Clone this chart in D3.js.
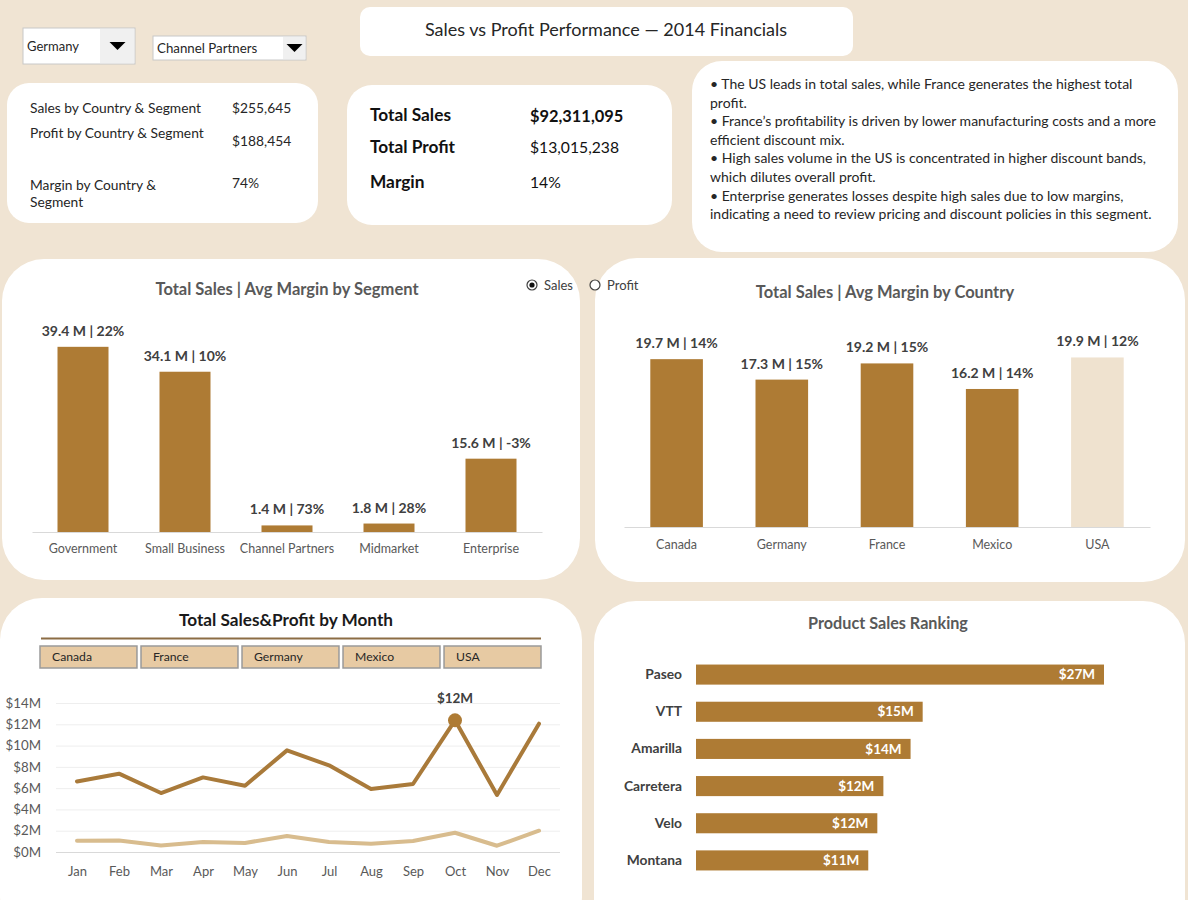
<!DOCTYPE html>
<html>
<head>
<meta charset="utf-8">
<script src="https://cdn.jsdelivr.net/npm/d3@7"></script>
<style>
  body { margin: 0; background: #F0E4D3; }
  svg { display: block; font-family: Lato, "Open Sans", sans-serif; }
</style>
</head>
<body>
<svg id="dash" width="1188" height="900"></svg>
<script>
// ---- data ----
const segments = ["Government", "Small Business", "Channel Partners", "Midmarket", "Enterprise"];
const segmentSales = [39.4, 34.1, 1.4, 1.8, 15.6];   // $M
const segmentMargin = [22, 10, 73, 28, -3];          // %

const countries = ["Canada", "Germany", "France", "Mexico", "USA"];
const countrySales = [19.7, 17.3, 19.2, 16.2, 19.9];
const countryMargin = [14, 15, 15, 14, 12];
const highlightCountry = "USA";

const months = ["Jan", "Feb", "Mar", "Apr", "May", "Jun", "Jul", "Aug", "Sep", "Oct", "Nov", "Dec"];
const monthSales = [6.63, 7.36, 5.54, 7.01, 6.23, 9.55, 8.14, 5.92, 6.39, 12.37, 5.36, 12.06];
const monthProfit = [1.06, 1.09, 0.62, 0.94, 0.85, 1.50, 0.94, 0.78, 1.03, 1.81, 0.59, 2.00];
const monthTicks = [0, 2, 4, 6, 8, 10, 12, 14];

const products = ["Paseo", "VTT", "Amarilla", "Carretera", "Velo", "Montana"];
const productSales = [27.0, 15.0, 14.2, 12.4, 12.0, 11.4];

const slicerCountries = ["Canada", "France", "Germany", "Mexico", "USA"];

const kpiSmallLabels = [["Sales by Country & Segment"], ["Profit by Country & Segment"], ["Margin by Country &", "Segment"]];
const kpiSmallValues = ["$255,645", "$188,454", "74%"];
const kpiLabels = ["Total Sales", "Total Profit", "Margin"];
const kpiValues = ["$92,311,095", "$13,015,238", "14%"];

const insights = [
  "\u2022 The US leads in total sales, while France generates the highest total",
  "profit.",
  "\u2022 France\u2019s profitability is driven by lower manufacturing costs and a more",
  "efficient discount mix.",
  "\u2022 High sales volume in the US is concentrated in higher discount bands,",
  "which dilutes overall profit.",
  "\u2022 Enterprise generates losses despite high sales due to low margins,",
  "indicating a need to review pricing and discount policies in this segment."
];

const BAR = "#AE7B34";
const LIGHT = "#EFE2CF";
const DARK = "#404040";
const GREY = "#595959";

const svg = d3.select("#dash");

svg.append("rect").attr("width", 1188).attr("height", 900).attr("fill", "#F0E4D3");

function panel(x, y, w, h, r) {
  svg.append("rect")
    .attr("x", x).attr("y", y).attr("width", w).attr("height", h)
    .attr("rx", r).attr("ry", r)
    .attr("fill", "#fff");
}

// ---- panels ----
panel(360, 7, 493, 49, 10);
panel(7, 83, 311, 140, 22);
panel(347, 85, 325, 140, 25);
panel(692, 61, 486, 191, 30);
panel(2, 259, 578, 321, 42);
panel(595, 258, 590, 324, 42);
panel(0, 598, 582, 340, 42);
panel(594, 601, 591, 340, 42);

// ---- title ----
svg.append("text")
  .attr("x", 606).attr("y", 30).attr("dy", "0.35em")
  .attr("text-anchor", "middle")
  .attr("font-size", 18).attr("fill", "#262626")
  .text("Sales vs Profit Performance \u2014 2014 Financials");

// ---- dropdowns ----
function dropdown(x, y, w, h, bw, label, fs) {
  let g = svg.append("g");
  g.append("rect").attr("x", x).attr("y", y).attr("width", w).attr("height", h)
    .attr("fill", "#fff").attr("stroke", "#C8C8C8");
  g.append("rect").attr("x", x + w - bw).attr("y", y + 1).attr("width", bw - 1).attr("height", h - 2)
    .attr("fill", "#F0F0F0");
  let cx = x + w - bw / 2, cy = y + h / 2;
  g.append("path")
    .attr("d", `M${cx - 8},${cy - 4}L${cx + 8},${cy - 4}L${cx},${cy + 4}Z`)
    .attr("fill", "#000");
  g.append("text").attr("x", x + 4).attr("y", cy).attr("dy", "0.35em")
    .attr("font-size", fs).attr("fill", "#262626").text(label);
}
dropdown(23, 28, 112, 36, 35, "Germany", 13);
dropdown(153, 36, 153, 24, 23, "Channel Partners", 13.3);

// ---- small KPI box ----
let rowsY = [108, 133, 185];
kpiSmallLabels.forEach((lines, i) => {
  let t = svg.append("text").attr("x", 30).attr("y", rowsY[i])
    .attr("font-size", 13.8).attr("fill", "#262626");
  lines.forEach((l, j) => t.append("tspan").attr("x", 30).attr("dy", j === 0 ? "0.35em" : 17).text(l));
});
[108, 141, 183].forEach((y, i) => {
  svg.append("text").attr("x", 232).attr("y", y).attr("dy", "0.35em")
    .attr("font-size", 13.8).attr("fill", "#262626").text(kpiSmallValues[i]);
});

// ---- totals box ----
[115, 147, 182].forEach((y, i) => {
  svg.append("text").attr("x", 370).attr("y", y).attr("dy", "0.35em")
    .attr("font-size", 17.3).attr("font-weight", "bold").attr("fill", "#111").text(kpiLabels[i]);
  svg.append("text").attr("x", 530).attr("y", y + 1).attr("dy", "0.35em")
    .attr("font-size", i === 0 ? 16.4 : 15.7).attr("font-weight", i === 0 ? "bold" : "normal")
    .attr("fill", "#111").text(kpiValues[i]);
});

// ---- insights ----
svg.append("text")
  .attr("font-size", 14).attr("fill", "#262626")
  .selectAll("tspan").data(insights).join("tspan")
  .attr("x", 710).attr("y", (d, i) => 84 + i * 18.6).attr("dy", "0.35em")
  .text(d => d);

// ---- generic vertical bar chart ----
function barChart(opt) {
  let data = opt.cats.map((c, i) => ({ c: c, s: opt.sales[i], m: opt.margin[i] }));
  let x = d3.scaleBand().domain(opt.cats).range(opt.xr).paddingInner(0.5).paddingOuter(0.25);
  let y = d3.scaleLinear().domain([0, opt.ymax]).range([opt.base, opt.top]);
  let g = svg.append("g");

  g.append("text").attr("x", opt.titleX).attr("y", opt.titleY).attr("dy", "0.35em")
    .attr("text-anchor", "middle").attr("font-size", 16.5).attr("font-weight", "bold")
    .attr("fill", GREY).text(opt.title);

  let ax = g.append("g").attr("transform", `translate(0,${opt.base})`)
    .call(d3.axisBottom(x).tickSize(0).tickPadding(opt.pad));
  ax.select(".domain").attr("stroke", "#D9D9D9");
  ax.selectAll("text").attr("font-size", 12.5).attr("fill", GREY).attr("font-family", "Lato, sans-serif");

  g.selectAll(".bar").data(data).join("rect").attr("class", "bar")
    .attr("x", d => x(d.c)).attr("width", x.bandwidth())
    .attr("y", d => y(d.s)).attr("height", d => opt.base - y(d.s))
    .attr("fill", d => d.c === opt.light ? LIGHT : BAR);

  g.selectAll(".lbl").data(data).join("text").attr("class", "lbl")
    .attr("x", d => x(d.c) + x.bandwidth() / 2).attr("y", d => y(d.s) - 11)
    .attr("text-anchor", "middle").attr("font-size", 14).attr("font-weight", "bold")
    .attr("fill", DARK).text(d => `${d.s.toFixed(1)} M | ${d.m}%`);
}

barChart({
  cats: segments, sales: segmentSales, margin: segmentMargin,
  xr: [32, 542], base: 532, top: 344, ymax: 40, pad: 12,
  title: "Total Sales | Avg Margin by Segment", titleX: 287, titleY: 289
});
barChart({
  cats: countries, sales: countrySales, margin: countryMargin, light: highlightCountry,
  xr: [624, 1150], base: 527, top: 356.6, ymax: 20, pad: 13,
  title: "Total Sales | Avg Margin by Country", titleX: 885, titleY: 292
});

// ---- Sales / Profit radio ----
svg.append("circle").attr("cx", 532).attr("cy", 285).attr("r", 5)
  .attr("fill", "#fff").attr("stroke", DARK).attr("stroke-width", 1.2);
svg.append("circle").attr("cx", 532).attr("cy", 285).attr("r", 2.6).attr("fill", "#111");
svg.append("text").attr("x", 544).attr("y", 285).attr("dy", "0.35em")
  .attr("font-size", 13).attr("fill", DARK).text("Sales");
svg.append("circle").attr("cx", 595).attr("cy", 285).attr("r", 5)
  .attr("fill", "#fff").attr("stroke", DARK).attr("stroke-width", 1.2);
svg.append("text").attr("x", 607).attr("y", 285).attr("dy", "0.35em")
  .attr("font-size", 13).attr("fill", DARK).text("Profit");

// ---- monthly line chart ----
{
  let g = svg.append("g");
  g.append("text").attr("x", 286).attr("y", 620).attr("dy", "0.35em")
    .attr("text-anchor", "middle").attr("font-size", 17.2).attr("font-weight", "bold")
    .attr("fill", "#1a1a1a").text("Total Sales&Profit by Month");
  g.append("line").attr("x1", 41).attr("x2", 541).attr("y1", 638.5).attr("y2", 638.5)
    .attr("stroke", "#8C6D45").attr("stroke-width", 2);

  let sx = d3.scaleBand().domain(slicerCountries).range([40, 541]).paddingInner(0.04);
  g.selectAll(".slicer").data(slicerCountries).join("rect").attr("class", "slicer")
    .attr("x", d => sx(d)).attr("y", 646).attr("width", sx.bandwidth()).attr("height", 22)
    .attr("fill", "#E7CAA3").attr("stroke", "#9A9A9A").attr("stroke-width", 1.5);
  g.selectAll(".slicerTxt").data(slicerCountries).join("text").attr("class", "slicerTxt")
    .attr("x", d => sx(d) + 12).attr("y", 657).attr("dy", "0.35em")
    .attr("font-size", 12.2).attr("fill", "#262626").text(d => d);

  let x = d3.scalePoint().domain(months).range([56, 560]).padding(0.5);
  let y = d3.scaleLinear().domain([0, 14]).range([852, 703]);

  let grid = g.append("g").attr("transform", "translate(56,0)")
    .call(d3.axisLeft(y).tickValues(monthTicks).tickSize(-504).tickFormat(""));
  grid.select(".domain").remove();
  grid.selectAll("line").attr("stroke", d => d === 0 ? "#D9D9D9" : "#EEEEEE");

  let ya = g.append("g").attr("transform", "translate(56,0)")
    .call(d3.axisLeft(y).tickValues(monthTicks).tickSize(0).tickPadding(15).tickFormat(d => `$${d}M`));
  ya.select(".domain").remove();
  ya.selectAll("text").attr("font-size", 13.3).attr("fill", GREY).attr("font-family", "Lato, sans-serif");

  let xa = g.append("g").attr("transform", "translate(0,852)")
    .call(d3.axisBottom(x).tickSize(0).tickPadding(15));
  xa.select(".domain").remove();
  xa.selectAll("text").attr("font-size", 13).attr("fill", GREY).attr("font-family", "Lato, sans-serif");

  let line = d3.line().x((d, i) => x(months[i])).y(d => y(d));
  g.append("path").datum(monthProfit).attr("d", line)
    .attr("fill", "none").attr("stroke", "#D8BC8E").attr("stroke-width", 4)
    .attr("stroke-linejoin", "round").attr("stroke-linecap", "round");
  g.append("path").datum(monthSales).attr("d", line)
    .attr("fill", "none").attr("stroke", "#A97A3A").attr("stroke-width", 4)
    .attr("stroke-linejoin", "round").attr("stroke-linecap", "round");

  let iMax = d3.maxIndex(monthSales);
  g.append("circle").attr("cx", x(months[iMax])).attr("cy", y(monthSales[iMax])).attr("r", 7)
    .attr("fill", BAR);
  g.append("text").attr("x", x(months[iMax])).attr("y", y(monthSales[iMax]) - 22).attr("dy", "0.35em")
    .attr("text-anchor", "middle").attr("font-size", 13.5).attr("font-weight", "bold")
    .attr("fill", DARK).text(`$${Math.round(monthSales[iMax])}M`);
}

// ---- product ranking ----
{
  let g = svg.append("g");
  g.append("text").attr("x", 888).attr("y", 623).attr("dy", "0.35em")
    .attr("text-anchor", "middle").attr("font-size", 16.2).attr("font-weight", "bold")
    .attr("fill", GREY).text("Product Sales Ranking");

  let y = d3.scaleBand().domain(products).range([656, 879]).paddingInner(0.46).paddingOuter(0.23);
  let x = d3.scaleLinear().domain([0, 27]).range([696, 1104]);

  g.selectAll(".pbar").data(products).join("rect").attr("class", "pbar")
    .attr("x", x(0)).attr("y", d => y(d)).attr("height", y.bandwidth())
    .attr("width", (d, i) => x(productSales[i]) - x(0)).attr("fill", BAR);

  let ya = g.append("g").attr("transform", `translate(${x(0)},0)`)
    .call(d3.axisLeft(y).tickSize(0).tickPadding(14));
  ya.select(".domain").remove();
  ya.selectAll("text").attr("font-size", 13.8).attr("font-weight", "bold")
    .attr("fill", DARK).attr("font-family", "Lato, sans-serif");

  g.selectAll(".pval").data(products).join("text").attr("class", "pval")
    .attr("x", (d, i) => x(productSales[i]) - 9).attr("y", d => y(d) + y.bandwidth() / 2)
    .attr("dy", "0.35em").attr("text-anchor", "end")
    .attr("font-size", 13.5).attr("font-weight", "bold").attr("fill", "#fff")
    .text((d, i) => `$${Math.round(productSales[i])}M`);
}
</script>
</body>
</html>
